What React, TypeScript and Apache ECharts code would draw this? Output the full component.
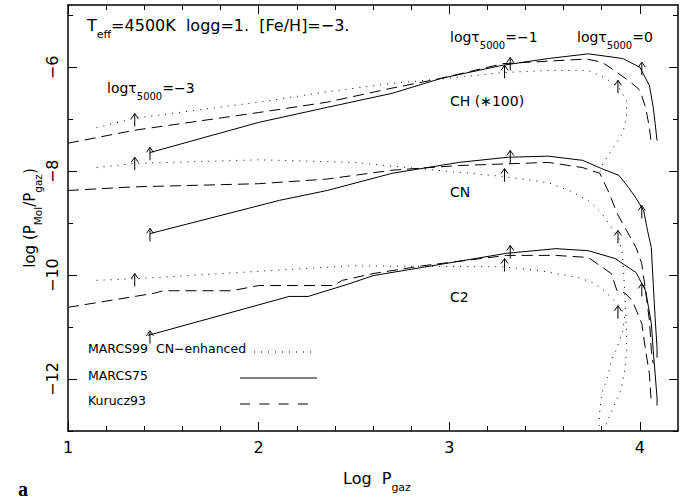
import { useEffect, useRef } from 'react';
import * as echarts from 'echarts';

// ---------- data (log Pgaz, log(Pmol/Pgaz)) ----------
const CH_MARCS99: [number, number][] = [
  [1.15, -7.16], [1.35, -6.98], [2.0, -6.67], [2.36, -6.47], [2.70, -6.31], [3.05, -6.19],
  [3.28, -6.10], [3.52, -6.06], [3.73, -6.06], [3.82, -6.21], [3.89, -6.39], [3.93, -6.64],
  [3.93, -6.96], [3.91, -7.27], [3.84, -7.66], [3.80, -7.89], [3.79, -8.02],
];
const CH_MARCS75: [number, number][] = [
  [1.43, -7.64], [2.0, -7.06], [2.36, -6.77], [2.70, -6.50], [2.96, -6.21], [3.28, -5.96],
  [3.52, -5.83], [3.73, -5.74], [3.91, -5.83], [4.0, -6.0], [4.05, -6.35], [4.07, -6.77],
  [4.08, -7.08], [4.09, -7.41],
];
const CH_KURUCZ93: [number, number][] = [
  [1.0, -7.46], [1.35, -7.21], [2.0, -6.87], [2.36, -6.67], [2.70, -6.40], [2.96, -6.21],
  [3.28, -5.93], [3.52, -5.88], [3.72, -5.84], [3.80, -5.90], [3.85, -6.02], [3.90, -6.15],
  [3.95, -6.28], [4.0, -6.44], [4.03, -6.77], [4.05, -7.16], [4.06, -7.48],
];
const CN_MARCS99: [number, number][] = [
  [1.15, -7.93], [1.35, -7.85], [2.0, -7.78], [2.5, -7.83], [2.84, -7.95], [3.05, -8.02],
  [3.28, -8.10], [3.52, -8.22], [3.64, -8.39], [3.73, -8.56], [3.80, -8.81], [3.85, -9.08],
  [3.89, -9.29], [3.91, -9.62], [3.92, -10.30], [3.93, -11.13], [3.93, -11.45], [3.92, -11.84],
  [3.90, -12.22], [3.86, -12.55], [3.83, -12.80], [3.81, -13.0],
];
const CN_MARCS75: [number, number][] = [
  [1.43, -9.20], [2.11, -8.56], [2.36, -8.37], [2.70, -8.04], [3.05, -7.83], [3.31, -7.73],
  [3.52, -7.71], [3.70, -7.79], [3.80, -7.95], [3.89, -8.08], [3.94, -8.31], [3.98, -8.52],
  [4.02, -8.76], [4.04, -9.14], [4.06, -9.47], [4.07, -10.16], [4.08, -10.82], [4.09, -11.40],
  [4.09, -11.59],
];
const CN_KURUCZ93: [number, number][] = [
  [1.0, -8.37], [1.35, -8.30], [2.0, -8.24], [2.36, -8.15], [2.70, -7.98], [3.05, -7.89],
  [3.52, -7.83], [3.70, -7.93], [3.79, -8.04], [3.84, -8.43], [3.88, -8.81], [3.93, -9.14],
  [3.98, -9.47], [4.01, -9.78], [4.03, -10.30], [4.05, -10.87], [4.06, -11.45], [4.07, -11.70],
];
const C2_MARCS99: [number, number][] = [
  [1.15, -10.10], [1.35, -10.07], [2.48, -9.82], [3.28, -9.84], [3.47, -9.91], [3.68, -10.05],
  [3.75, -10.14], [3.80, -10.26], [3.85, -10.43], [3.90, -10.62], [3.92, -10.82], [3.91, -11.07],
  [3.88, -11.40], [3.85, -11.65], [3.83, -11.97], [3.80, -12.28], [3.79, -12.61], [3.785, -13.0],
];
const C2_MARCS75: [number, number][] = [
  [1.42, -11.16], [2.16, -10.41], [2.26, -10.41], [2.48, -10.16], [2.60, -10.01], [2.86, -9.85],
  [3.30, -9.58], [3.56, -9.49], [3.73, -9.53], [3.87, -9.68], [3.98, -9.95], [4.03, -10.30],
  [4.06, -10.93], [4.07, -11.45], [4.08, -11.90], [4.09, -12.36], [4.09, -12.51],
];
const C2_KURUCZ93: [number, number][] = [
  [1.0, -10.62], [1.45, -10.35], [1.50, -10.30], [1.86, -10.30], [2.0, -10.20], [2.39, -10.20],
  [2.44, -10.10], [2.60, -9.97], [2.86, -9.82], [3.30, -9.62], [3.56, -9.62], [3.73, -9.66],
  [3.85, -9.97], [3.88, -10.30], [3.92, -10.34], [3.96, -10.49], [4.01, -10.93], [4.03, -11.45],
  [4.05, -11.90], [4.06, -12.47],
];
// arrow tips marking log tau5000 = -3, -1, 0
const ARROW_TIPS: [number, number][] = [
  [1.35, -6.89], [1.43, -7.54], [3.29, -5.96], [3.32, -5.81], [3.885, -6.25], [4.01, -5.90],
  [1.35, -7.73], [1.43, -9.10], [3.29, -7.95], [3.32, -7.60], [3.885, -9.14], [4.01, -8.66],
  [1.35, -9.97], [1.43, -11.07], [3.29, -9.68], [3.32, -9.43], [3.885, -10.59], [4.01, -10.16],
];

// ---------- axes ----------
const X_MIN = 1;
const X_MAX = 4.2;
const Y_MIN = -13;
const Y_MAX = -4.8;
const X_MAJOR = [1, 2, 3, 4];
const X_MINOR = [1.2, 1.4, 1.6, 1.8, 2.2, 2.4, 2.6, 2.8, 3.2, 3.4, 3.6, 3.8];
const Y_MAJOR = [-12, -10, -8, -6];
const Y_MINOR = [-13, -11, -9, -7, -5];

const FONT = '"DejaVu Sans", sans-serif';
const BLACK = '#000';

const DOTTED = [1, 6];
const DASHED = [11, 6];

function lineSeries(name: string, data: [number, number][], type: any) {
  return {
    type: 'line',
    name,
    data,
    showSymbol: false,
    symbol: 'none',
    silent: true,
    lineStyle: { color: BLACK, width: 1, type },
    z: 2,
  };
}

function xAxis(position: 'top' | 'bottom', major: boolean) {
  return {
    type: 'value',
    min: X_MIN,
    max: X_MAX,
    position,
    gridIndex: 0,
    splitLine: { show: false },
    axisLine: { show: major, onZero: false, lineStyle: { color: BLACK, width: 1.5 } },
    axisTick: {
      show: true,
      inside: true,
      length: major ? 9 : 5,
      customValues: major ? X_MAJOR : X_MINOR,
      lineStyle: { color: BLACK, width: 1 },
    },
    axisLabel:
      major && position === 'bottom'
        ? {
            show: true,
            customValues: X_MAJOR,
            formatter: (v: number) => String(v),
            fontSize: 16,
            fontFamily: FONT,
            color: BLACK,
            margin: 8,
          }
        : { show: false },
  };
}

function yAxis(position: 'left' | 'right', major: boolean) {
  return {
    type: 'value',
    min: Y_MIN,
    max: Y_MAX,
    position,
    gridIndex: 0,
    splitLine: { show: false },
    axisLine: { show: major, onZero: false, lineStyle: { color: BLACK, width: 1.5 } },
    axisTick: {
      show: true,
      inside: true,
      length: major ? 9 : 5,
      customValues: major ? Y_MAJOR : Y_MINOR,
      lineStyle: { color: BLACK, width: 1 },
    },
    axisLabel:
      major && position === 'left'
        ? {
            show: true,
            customValues: Y_MAJOR,
            formatter: (v: number) => String(v).replace('-', '\u2212'),
            rotate: 90,
            fontSize: 16,
            fontFamily: FONT,
            color: BLACK,
            margin: 8,
          }
        : { show: false },
  };
}

const rich16 = {
  n: { fontSize: 16, fontFamily: FONT, color: BLACK },
  s: { fontSize: 11, fontFamily: FONT, color: BLACK, lineHeight: 12, padding: [17, 0, 0, 0] },
};
const rich15 = {
  n: { fontSize: 15, fontFamily: FONT, color: BLACK },
  s: { fontSize: 10.5, fontFamily: FONT, color: BLACK, lineHeight: 11, padding: [16, 0, 0, 0] },
};
const rich14 = {
  n: { fontSize: 14, fontFamily: FONT, color: BLACK },
  s: { fontSize: 10, fontFamily: FONT, color: BLACK, lineHeight: 10, padding: [16, 0, 0, 0] },
};

function label(text: string, x: number, y: number, size = 14) {
  return {
    type: 'text',
    x,
    y,
    silent: true,
    style: { text, fill: BLACK, font: `${size}px ${FONT}`, textAlign: 'left', textVerticalAlign: 'middle' },
  };
}
function richLabel(text: string, x: number, y: number, rich: any, align = 'left', rotation = 0) {
  return {
    type: 'text',
    x,
    y,
    rotation,
    silent: true,
    style: { text, rich, fill: BLACK, textAlign: align, textVerticalAlign: 'middle' },
  };
}
function legendLine(x1: number, x2: number, y: number, dash: number[] | null) {
  return {
    type: 'line',
    silent: true,
    shape: { x1, y1: y, x2, y2: y },
    style: { stroke: BLACK, lineWidth: 1, lineDash: dash || undefined },
  };
}

const option: any = {
  animation: false,
  backgroundColor: '#fff',
  grid: { left: 68, top: 5, width: 610, height: 426, containLabel: false },
  xAxis: [xAxis('bottom', true), xAxis('bottom', false), xAxis('top', true), xAxis('top', false)],
  yAxis: [yAxis('left', true), yAxis('left', false), yAxis('right', true), yAxis('right', false)],
  series: [
    lineSeries('CH MARCS99', CH_MARCS99, DOTTED),
    lineSeries('CH MARCS75', CH_MARCS75, 'solid'),
    lineSeries('CH Kurucz93', CH_KURUCZ93, DASHED),
    lineSeries('CN MARCS99', CN_MARCS99, DOTTED),
    lineSeries('CN MARCS75', CN_MARCS75, 'solid'),
    lineSeries('CN Kurucz93', CN_KURUCZ93, DASHED),
    lineSeries('C2 MARCS99', C2_MARCS99, DOTTED),
    lineSeries('C2 MARCS75', C2_MARCS75, 'solid'),
    lineSeries('C2 Kurucz93', C2_KURUCZ93, DASHED),
    {
      type: 'custom',
      name: 'tau markers',
      silent: true,
      z: 3,
      data: ARROW_TIPS,
      encode: { x: 0, y: 1 },
      renderItem: (_params: any, api: any) => {
        const p = api.coord([api.value(0), api.value(1)]);
        return {
          type: 'group',
          children: [
            {
              type: 'line',
              shape: { x1: p[0], y1: p[1], x2: p[0], y2: p[1] + 13 },
              style: { stroke: BLACK, lineWidth: 1 },
            },
            {
              type: 'polyline',
              shape: { points: [[p[0] - 3.5, p[1] + 5], [p[0], p[1]], [p[0] + 3.5, p[1] + 5]] },
              style: { stroke: BLACK, fill: 'none', lineWidth: 1 },
            },
          ],
        };
      },
    },
  ],
  graphic: [
    richLabel('{n|T}{s|eff}{n|=4500K  logg=1.  [Fe/H]=\u22123.}', 87, 25.5, rich16),
    richLabel('{n|log\u03c4}{s|5000}{n|=\u22123}', 107, 88, rich14),
    richLabel('{n|log\u03c4}{s|5000}{n|=\u22121}', 450, 37, rich14),
    richLabel('{n|log\u03c4}{s|5000}{n|=0}', 577, 37, rich14),
    label('CH (\u2217100)', 450, 101),
    label('CN', 450, 192),
    label('C2', 450, 297),
    label('MARCS99  CN\u2212enhanced', 88, 348.5, 12.5),
    label('MARCS75', 88, 375.5, 12.5),
    label('Kurucz93', 88, 400.5, 12.5),
    legendLine(254, 316, 352, DOTTED),
    legendLine(240, 317, 378, null),
    legendLine(240, 308, 404, [10, 9.3]),
    richLabel('{n|Log  P}{s|gaz}', 343, 478.5, rich16),
    richLabel('{n|log (P}{s|Mol}{n|/P}{s|gaz}{n|)}', 30, 218, rich15, 'center', Math.PI / 2),
    {
      type: 'text',
      x: 18,
      y: 489,
      silent: true,
      style: {
        text: 'a',
        fill: BLACK,
        font: 'bold 20px "Liberation Serif", "DejaVu Serif", serif',
        textAlign: 'left',
        textVerticalAlign: 'middle',
      },
    },
  ],
};

export default function App() {
  const ref = useRef<HTMLDivElement>(null);
  useEffect(() => {
    if (!ref.current) return;
    const chart = echarts.init(ref.current, null, { renderer: 'svg' });
    chart.setOption(option);
    return () => chart.dispose();
  }, []);
  return (
    <div
      ref={ref}
      style={{ position: 'absolute', left: 0, top: 0, width: 687, height: 499, background: '#fff' }}
    />
  );
}
